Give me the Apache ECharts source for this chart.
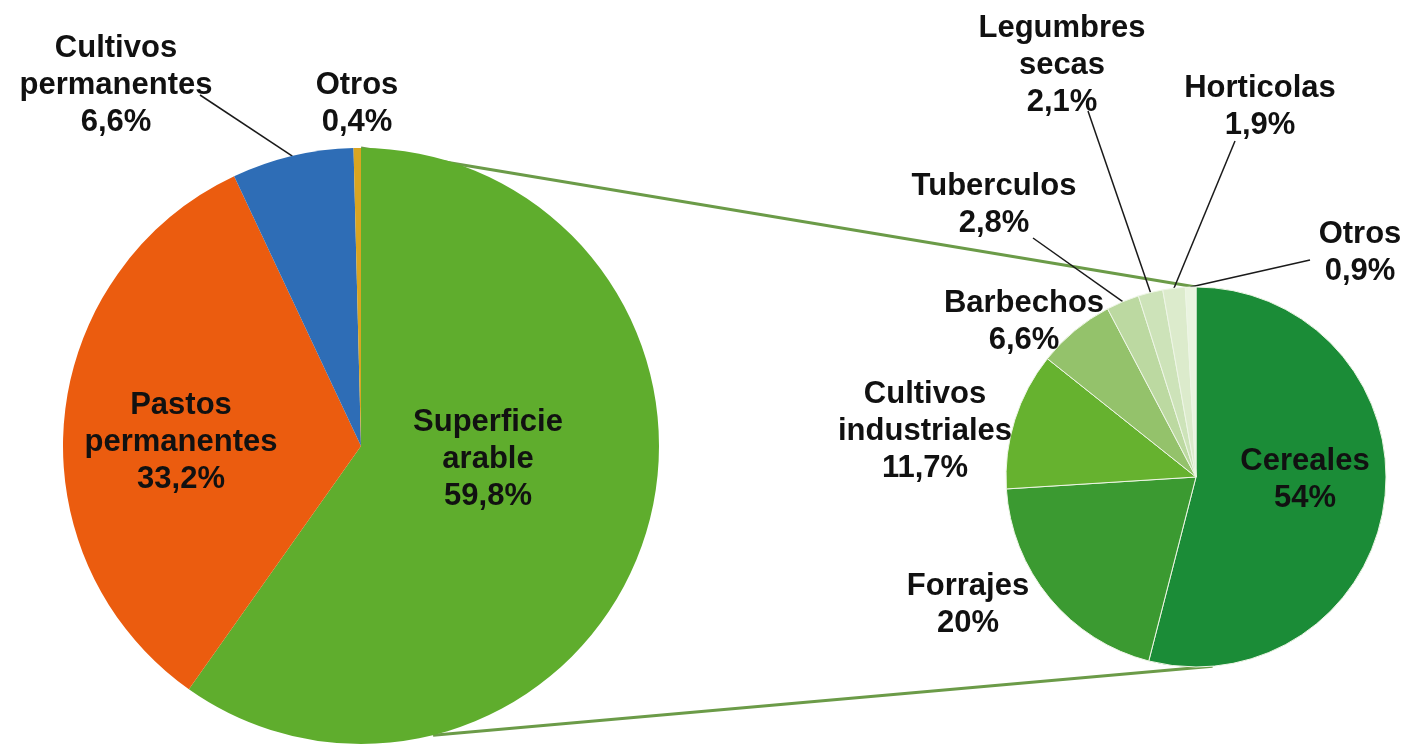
<!DOCTYPE html>
<html>
<head>
<meta charset="utf-8">
<script src="https://cdn.jsdelivr.net/npm/echarts@6/dist/echarts.min.js"></script>
<style>
  html, body { margin: 0; padding: 0; background: #fff; }
  #chart { width: 1407px; height: 745px; }
</style>
</head>
<body>
<div id="chart"></div>
<script>
// datos: superficie agraria (pie principal) y desglose de la superficie arable
const mainNames = ['Superficie arable', 'Pastos permanentes', 'Cultivos permanentes', 'Otros'];
const mainValues = [59.8, 33.2, 6.6, 0.4];
const subNames = ['Cereales', 'Forrajes', 'Cultivos industriales', 'Barbechos', 'Tuberculos', 'Legumbres secas', 'Horticolas', 'Otros'];
const subValues = [54, 20, 11.7, 6.6, 2.8, 2.1, 1.9, 0.9];

// estilo / posicion
const mainColors = ['#5fad2d', '#eb5c0f', '#2e6db6', '#d9a521'];
const subColors = ['#1b8c37', '#3b9a31', '#66b22f', '#94c26b', '#bcd9a1', '#cde3b9', '#dcebcc', '#eaf4e0'];
const MAIN = { cx: 361, cy: 446, r: 298 };
const SUB = { cx: 1196, cy: 477, r: 190 };
// centro de cada etiqueta y origen de la linea guia (relativo a la etiqueta)
const mainLabelPos = [[488, 459], [181, 442], [116, 85], [357, 104]];
const mainLineFrom = [null, null, [84, 10], null];
const subLabelPos = [[1305, 480], [968, 605], [925, 431], [1024, 322], [994, 205], [1062, 65], [1260, 107], [1360, 253]];
const subLineFrom = [null, null, null, null, [39, 33], [26, 46], [-25, 34], [-50, 7]];
// angulos (desde las 12, sentido horario) de la linea inferior de union
const joinAngleMain = 166, joinAngleSub = 175;

function fmtPct(v) { return String(v).replace('.', ',') + '%'; }

function edgePoint(c, deg) {
    const a = deg * Math.PI / 180;
    return [c.cx + c.r * Math.sin(a), c.cy - c.r * Math.cos(a)];
}

function midAngle(values, i) {
    const total = values.reduce((s, v) => s + v, 0);
    let before = 0;
    for (let k = 0; k < i; k++) before += values[k];
    return (before + values[i] / 2) / total * 360;
}

function makeLayout(c, values, pos, lineFrom) {
    return params => {
        const i = params.dataIndex;
        const p = pos[i];
        const out = { x: p[0], y: p[1], align: 'center', verticalAlign: 'middle' };
        if (lineFrom[i]) {
            out.labelLinePoints = [edgePoint(c, midAngle(values, i)), [p[0] + lineFrom[i][0], p[1] + lineFrom[i][1]]];
        }
        return out;
    };
}

function buildData(names, values, colors, lineFrom) {
    return names.map((n, i) => ({
        name: n, value: values[i],
        itemStyle: { color: colors[i] },
        labelLine: { show: !!lineFrom[i] }
    }));
}

const labelStyle = {
    show: true,
    position: 'outside',
    formatter: p => p.name.replace(' ', '\n') + '\n' + fmtPct(p.value),
    color: '#111',
    fontFamily: "'Liberation Sans', Arial, sans-serif",
    fontSize: 31,
    fontWeight: 'bold',
    lineHeight: 37,
    textBorderWidth: 0
};
const lineStyle = { show: true, length: 10, length2: 10, lineStyle: { color: '#1a1a1a', width: 1.5 } };

const chart = echarts.init(document.getElementById('chart'));
const topA = edgePoint(MAIN, 0), topB = edgePoint(SUB, 0);
const botA = edgePoint(MAIN, joinAngleMain), botB = edgePoint(SUB, joinAngleSub);
chart.setOption({
    animation: false,
    backgroundColor: '#fff',
    graphic: [
        { type: 'line', shape: { x1: topA[0], y1: topA[1], x2: topB[0], y2: topB[1] }, style: { stroke: '#6b9b48', lineWidth: 3 } },
        { type: 'line', shape: { x1: botA[0], y1: botA[1], x2: botB[0], y2: botB[1] }, style: { stroke: '#6b9b48', lineWidth: 3 } }
    ],
    series: [
        {
            type: 'pie',
            center: [MAIN.cx, MAIN.cy],
            radius: MAIN.r,
            startAngle: 90,
            clockwise: true,
            avoidLabelOverlap: false,
            itemStyle: { borderWidth: 0 },
            label: labelStyle,
            labelLine: lineStyle,
            labelLayout: makeLayout(MAIN, mainValues, mainLabelPos, mainLineFrom),
            emphasis: { disabled: true },
            data: buildData(mainNames, mainValues, mainColors, mainLineFrom)
        },
        {
            type: 'pie',
            center: [SUB.cx, SUB.cy],
            radius: SUB.r,
            startAngle: 90,
            clockwise: true,
            avoidLabelOverlap: false,
            itemStyle: { borderColor: '#eef6e6', borderWidth: 1 },
            label: labelStyle,
            labelLine: lineStyle,
            labelLayout: makeLayout(SUB, subValues, subLabelPos, subLineFrom),
            emphasis: { disabled: true },
            data: buildData(subNames, subValues, subColors, subLineFrom)
        }
    ]
});
window.addEventListener('resize', () => chart.resize());
</script>
</body>
</html>
